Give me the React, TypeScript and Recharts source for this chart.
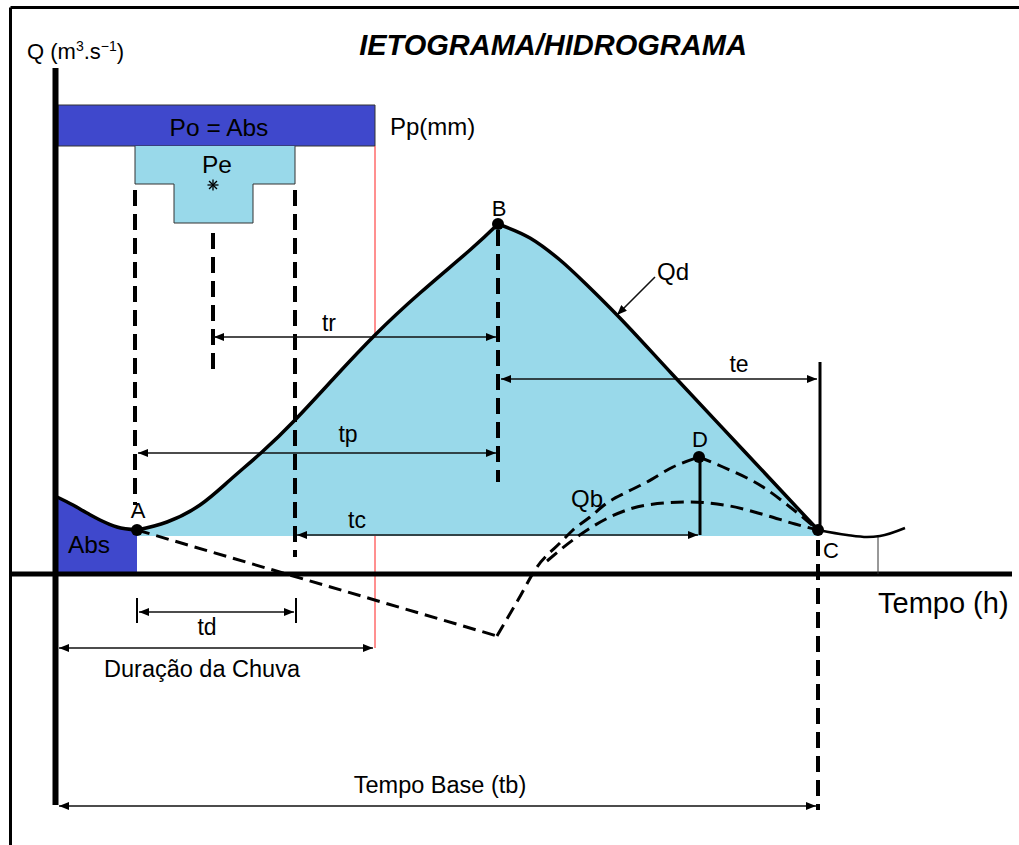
import React from 'react';
import { ComposedChart, Line, Area, Scatter, XAxis, YAxis, ReferenceArea } from 'recharts';

const FONT = "'Liberation Sans', Arial, Helvetica, sans-serif";

// Diagram units: t (time, h) on X, Q (flow) on Y
const T_DOMAIN: [number, number] = [-5.5, 96.4];
const Q_DOMAIN: [number, number] = [-27.1, 57.4];

// Hydrograph (direct runoff) limbs
const absLimb = [
  { t: 0.2, q: 7.7 }, { t: 1.8, q: 6.9 }, { t: 3.2, q: 6.1 }, { t: 4.5, q: 5.4 }, { t: 6.2, q: 4.7 }, { t: 8.2, q: 4.4 },
];
const risingLimb = [
  { t: 8.2, q: 4.4 }, { t: 11.2, q: 5.2 }, { t: 14.5, q: 6.9 }, { t: 17.5, q: 9.4 }, { t: 20.7, q: 12.2 },
  { t: 24.0, q: 15.4 }, { t: 28.0, q: 19.7 }, { t: 32.0, q: 23.9 }, { t: 36.5, q: 28.1 }, { t: 41.5, q: 32.4 },
  { t: 44.3, q: 35.0 },
];
const fallingLimb = [
  { t: 44.3, q: 35.0 }, { t: 47.5, q: 33.6 }, { t: 50.5, q: 31.4 }, { t: 53.5, q: 28.6 }, { t: 56.2, q: 25.9 },
  { t: 61.7, q: 20.0 }, { t: 69.0, q: 12.2 }, { t: 76.3, q: 4.4 },
];
const tailLimb = [
  { t: 76.3, q: 4.4 }, { t: 79.2, q: 3.9 }, { t: 81.2, q: 3.7 }, { t: 82.5, q: 3.8 }, { t: 85.0, q: 4.6 },
];
const FILL_BASE = 3.8;

// Baseflow (dashed)
const baseflowDrop = [{ t: 8.2, q: 4.4 }, { t: 44.2, q: -6.2 }];
const baseflowRise = [
  { t: 44.2, q: -6.2 }, { t: 46.3, q: -2.6 }, { t: 48.2, q: 0.7 }, { t: 50.5, q: 3.1 }, { t: 51.8, q: 4.4 },
  { t: 53.5, q: 5.7 }, { t: 55.2, q: 7.1 }, { t: 57.2, q: 8.2 }, { t: 59.2, q: 9.2 }, { t: 61.8, q: 10.7 },
  { t: 64.4, q: 11.7 },
];
const baseflowRecess = [
  { t: 64.4, q: 11.7 }, { t: 66.8, q: 10.7 }, { t: 70.8, q: 8.7 }, { t: 73.5, q: 6.7 }, { t: 76.3, q: 4.4 },
];
const baseflowLower = [
  { t: 49.2, q: 1.3 }, { t: 52.2, q: 3.7 }, { t: 55.5, q: 5.7 }, { t: 59.2, q: 6.9 }, { t: 63.5, q: 7.2 },
  { t: 67.5, q: 6.8 }, { t: 71.0, q: 5.9 }, { t: 74.0, q: 5.0 }, { t: 76.3, q: 4.4 },
];

// Key points
const keyPoints = [
  { t: 8.2, q: 4.4 }, { t: 44.3, q: 35.0 }, { t: 76.3, q: 4.4 }, { t: 64.4, q: 11.7 },
];
const pointLabels = [
  { t: 8.3, q: 5.6, text: 'A' }, { t: 44.4, q: 35.8, text: 'B' }, { t: 77.6, q: 1.6, text: 'C' }, { t: 64.5, q: 12.7, text: 'D' },
];

// Frame and axes
const frameTop = [{ t: -4.45, q: 56.65 }, { t: 96.4, q: 56.65 }];
const frameLeft = [{ t: -4.45, q: 56.65 }, { t: -4.45, q: -27.1 }];
const axisQ = [{ t: 0.05, q: 50.6 }, { t: 0.05, q: -23.1 }];
const axisT = [{ t: -4.45, q: 0 }, { t: 95.7, q: 0 }];

// Rainfall bars (hyetograph)
const poRect = { t1: 0.3, t2: 32.0, q1: 42.8, q2: 46.9 };
const peTop = { t1: 8.0, t2: 24.0, q1: 39.0, q2: 42.8 };
const peBottom = { t1: 11.9, t2: 19.8, q1: 35.1, q2: 39.0 };
const peOutline = [
  { t: peTop.t1, q: peTop.q2 }, { t: peTop.t1, q: peTop.q1 }, { t: peBottom.t1, q: peTop.q1 },
  { t: peBottom.t1, q: peBottom.q1 }, { t: peBottom.t2, q: peBottom.q1 }, { t: peBottom.t2, q: peTop.q1 },
  { t: peTop.t2, q: peTop.q1 }, { t: peTop.t2, q: peTop.q2 },
];
const peCentroid = [{ t: 15.8, q: 38.9 }];

// Rain duration limit (red)
const rainEndUpper = [{ t: 32.0, q: 42.8 }, { t: 32.0, q: 23.9 }];
const rainEndLower = [{ t: 32.0, q: 3.8 }, { t: 32.0, q: -7.4 }];

// Dashed guides
const dashedGuides = [
  [{ t: 8.0, q: 38.4 }, { t: 8.0, q: 6.9 }],
  [{ t: 24.0, q: 38.4 }, { t: 24.0, q: 1.7 }],
  [{ t: 15.8, q: 34.1 }, { t: 15.8, q: 19.8 }],
  [{ t: 44.3, q: 34.4 }, { t: 44.3, q: 9.2 }],
  [{ t: 76.3, q: 3.4 }, { t: 76.3, q: -23.6 }],
];
// Solid guides
const thickGuides = [
  [{ t: 76.5, q: 21.2 }, { t: 76.5, q: 4.4 }],
  [{ t: 64.5, q: 11.7 }, { t: 64.5, q: 3.9 }],
];
const thinGuides = [
  [{ t: 82.3, q: 3.8 }, { t: 82.3, q: 0 }],
];
const tdTicks = [
  [{ t: 8.2, q: -2.4 }, { t: 8.2, q: -4.9 }],
  [{ t: 24.1, q: -2.4 }, { t: 24.1, q: -4.9 }],
];

// Time spans (double arrows)
const spans = [
  { t1: 15.9, t2: 44.1, q: 23.7 }, // tr
  { t1: 44.6, t2: 76.2, q: 19.5 }, // te
  { t1: 8.3, t2: 44.1, q: 12.1 }, // tp
  { t1: 24.2, t2: 64.3, q: 3.9 }, // tc
  { t1: 8.4, t2: 23.9, q: -3.8 }, // td
  { t1: 0.4, t2: 31.8, q: -7.4 }, // Duração da Chuva
  { t1: 0.4, t2: 76.1, q: -23.2 }, // Tempo Base
];
const qdPointer = [{ t: 60.0, q: 29.7 }, { t: 56.2, q: 25.9 }];

// Text labels
const spanLabels = [
  { t: 27.4, q: 24.3, text: 'tr' }, { t: 68.4, q: 20.2, text: 'te' }, { t: 29.3, q: 13.2, text: 'tp' },
  { t: 30.2, q: 4.6, text: 'tc' }, { t: 15.2, q: -6.1, text: 'td' },
];
const curveLabels = [
  { t: 61.8, q: 29.4, text: 'Qd' }, { t: 53.2, q: 6.7, text: 'Qb' },
];
const bigLabels = [
  { t: 16.4, q: 43.8, text: 'Po = Abs' }, { t: 16.2, q: 40.1, text: 'Pe' }, { t: 3.4, q: 2.1, text: 'Abs' },
];
const noteLabels = [
  { t: 14.7, q: -10.3, text: 'Duração da Chuva' }, { t: 38.5, q: -21.9, text: 'Tempo Base (tb)' },
];
const titleLabel = [{ t: 49.8, q: 51.9, text: 'IETOGRAMA/HIDROGRAMA' }];
const ppLabel = [{ t: 33.5, q: 43.9, text: 'Pp(mm)' }];
const tempoLabel = [{ t: 82.3, q: -3.9, text: 'Tempo (h)' }];
const qAxisLabel = [{ t: -2.8, q: 51.5, text: 'Q' }];

const seg = (key: string, data: any[], props: any) => (
  <Line
    key={key}
    data={data}
    dataKey="q"
    type="linear"
    dot={false}
    activeDot={false}
    isAnimationActive={false}
    legendType="none"
    {...props}
  />
);

const textShape = (size: number, anchor: string, extra: any = {}) => (p: any) => (
  <text x={p.cx} y={p.cy} fontSize={size} fontFamily={FONT} textAnchor={anchor} fill="#000" {...extra}>
    {p.payload.text}
  </text>
);

const starShape = (p: any) => {
  const r = 5.5;
  const d = r * 0.72;
  return (
    <g stroke="#000" strokeWidth={1.3}>
      <line x1={p.cx - r} y1={p.cy} x2={p.cx + r} y2={p.cy} />
      <line x1={p.cx} y1={p.cy - r} x2={p.cx} y2={p.cy + r} />
      <line x1={p.cx - d} y1={p.cy - d} x2={p.cx + d} y2={p.cy + d} />
      <line x1={p.cx - d} y1={p.cy + d} x2={p.cx + d} y2={p.cy - d} />
    </g>
  );
};

const LIGHT = '#99D9EA';
const DARK = '#3F48CC';

export default function App() {
  return (
    <div style={{ position: 'absolute', left: 0, top: 0, width: 1019, height: 845, background: '#fff' }}>
      <ComposedChart width={1019} height={845} margin={{ top: 0, right: 0, bottom: 0, left: 0 }}>
        <defs>
          <marker id="arr" viewBox="0 0 10 8" refX="10" refY="4" markerWidth="10" markerHeight="8"
            markerUnits="userSpaceOnUse" orient="auto-start-reverse">
            <path d="M0,0 L10,4 L0,8 z" fill="#000" />
          </marker>
        </defs>
        <XAxis type="number" dataKey="t" domain={T_DOMAIN} allowDataOverflow hide />
        <YAxis type="number" dataKey="q" domain={Q_DOMAIN} allowDataOverflow hide />

        <ReferenceArea x1={poRect.t1} x2={poRect.t2} y1={poRect.q1} y2={poRect.q2} fill={DARK} fillOpacity={1}
          stroke="#333" strokeWidth={1} ifOverflow="visible" />
        <ReferenceArea x1={peTop.t1} x2={peTop.t2} y1={peTop.q1} y2={peTop.q2} fill={LIGHT} fillOpacity={1}
          stroke="none" ifOverflow="visible" />
        <ReferenceArea x1={peBottom.t1} x2={peBottom.t2} y1={peBottom.q1} y2={peBottom.q2} fill={LIGHT} fillOpacity={1}
          stroke="none" ifOverflow="visible" />

        <Area data={absLimb.map(p => ({ t: p.t, r: [0, p.q] }))} dataKey="r" type="monotone" fill={DARK}
          fillOpacity={1} stroke="none" isAnimationActive={false} activeDot={false} legendType="none" />
        <Area data={risingLimb.map(p => ({ t: p.t, r: [FILL_BASE, p.q] }))} dataKey="r" type="natural" fill={LIGHT}
          fillOpacity={1} stroke="none" isAnimationActive={false} activeDot={false} legendType="none" />
        <Area data={fallingLimb.map(p => ({ t: p.t, r: [FILL_BASE, p.q] }))} dataKey="r" type="monotone" fill={LIGHT}
          fillOpacity={1} stroke="none" isAnimationActive={false} activeDot={false} legendType="none" />

        {seg('peOutline', peOutline, { stroke: '#333', strokeWidth: 1 })}
        {seg('redU', rainEndUpper, { stroke: '#ff2020', strokeWidth: 1 })}
        {seg('redL', rainEndLower, { stroke: '#ff2020', strokeWidth: 1 })}

        {seg('frameTop', frameTop, { stroke: '#000', strokeWidth: 3 })}
        {seg('frameLeft', frameLeft, { stroke: '#000', strokeWidth: 3 })}
        {seg('axisQ', axisQ, { stroke: '#000', strokeWidth: 6 })}
        {seg('axisT', axisT, { stroke: '#000', strokeWidth: 5 })}

        {dashedGuides.map((d, i) => seg('dg' + i, d, { stroke: '#000', strokeWidth: 4, strokeDasharray: '16 8' }))}
        {thickGuides.map((d, i) => seg('tg' + i, d, { stroke: '#000', strokeWidth: 3 }))}
        {thinGuides.map((d, i) => seg('ng' + i, d, { stroke: '#333', strokeWidth: 1 }))}
        {tdTicks.map((d, i) => seg('tk' + i, d, { stroke: '#000', strokeWidth: 2 }))}

        {spans.map((s, i) => seg('sp' + i, [{ t: s.t1, q: s.q }, { t: s.t2, q: s.q }],
          { stroke: '#111', strokeWidth: 1.6, markerStart: 'url(#arr)', markerEnd: 'url(#arr)' }))}
        {seg('qdp', qdPointer, { stroke: '#111', strokeWidth: 1.6, markerEnd: 'url(#arr)' })}

        {seg('bfDrop', baseflowDrop, { stroke: '#000', strokeWidth: 3, strokeDasharray: '13 7' })}
        {seg('bfRise', baseflowRise, { stroke: '#000', strokeWidth: 3, strokeDasharray: '13 7', type: 'monotone' })}
        {seg('bfRec', baseflowRecess, { stroke: '#000', strokeWidth: 3, strokeDasharray: '13 7', type: 'monotone' })}
        {seg('bfLow', baseflowLower, { stroke: '#000', strokeWidth: 3, strokeDasharray: '13 7', type: 'monotone' })}

        {seg('abs', absLimb, { stroke: '#000', strokeWidth: 3.5, type: 'monotone' })}
        {seg('rise', risingLimb, { stroke: '#000', strokeWidth: 3.5, type: 'natural' })}
        {seg('fall', fallingLimb, { stroke: '#000', strokeWidth: 3.5, type: 'monotone' })}
        {seg('tail', tailLimb, { stroke: '#000', strokeWidth: 2.5, type: 'monotone' })}

        <Scatter data={keyPoints} dataKey="q" isAnimationActive={false} legendType="none"
          shape={(p: any) => <circle cx={p.cx} cy={p.cy} r={6} fill="#000" />} />
        <Scatter data={peCentroid} dataKey="q" isAnimationActive={false} legendType="none" shape={starShape} />

        <Scatter data={pointLabels} dataKey="q" isAnimationActive={false} legendType="none" shape={textShape(22, 'middle')} />
        <Scatter data={spanLabels} dataKey="q" isAnimationActive={false} legendType="none" shape={textShape(23, 'middle')} />
        <Scatter data={curveLabels} dataKey="q" isAnimationActive={false} legendType="none" shape={textShape(24, 'middle')} />
        <Scatter data={bigLabels} dataKey="q" isAnimationActive={false} legendType="none" shape={textShape(24.5, 'middle')} />
        <Scatter data={noteLabels} dataKey="q" isAnimationActive={false} legendType="none" shape={textShape(23.5, 'middle')} />
        <Scatter data={titleLabel} dataKey="q" isAnimationActive={false} legendType="none"
          shape={textShape(29, 'middle', { fontWeight: 'bold', fontStyle: 'italic' })} />
        <Scatter data={ppLabel} dataKey="q" isAnimationActive={false} legendType="none" shape={textShape(24, 'start')} />
        <Scatter data={tempoLabel} dataKey="q" isAnimationActive={false} legendType="none" shape={textShape(29, 'start')} />
        <Scatter data={qAxisLabel} dataKey="q" isAnimationActive={false} legendType="none"
          shape={(p: any) => (
            <text x={p.cx} y={p.cy} fontSize={22} fontFamily={FONT} textAnchor="start" fill="#000">
              <tspan>Q (m</tspan>
              <tspan fontSize={14} dy={-8}>3</tspan>
              <tspan dy={8}>.s</tspan>
              <tspan fontSize={14} dy={-8}>−1</tspan>
              <tspan dy={8}>)</tspan>
            </text>
          )} />
      </ComposedChart>
    </div>
  );
}
